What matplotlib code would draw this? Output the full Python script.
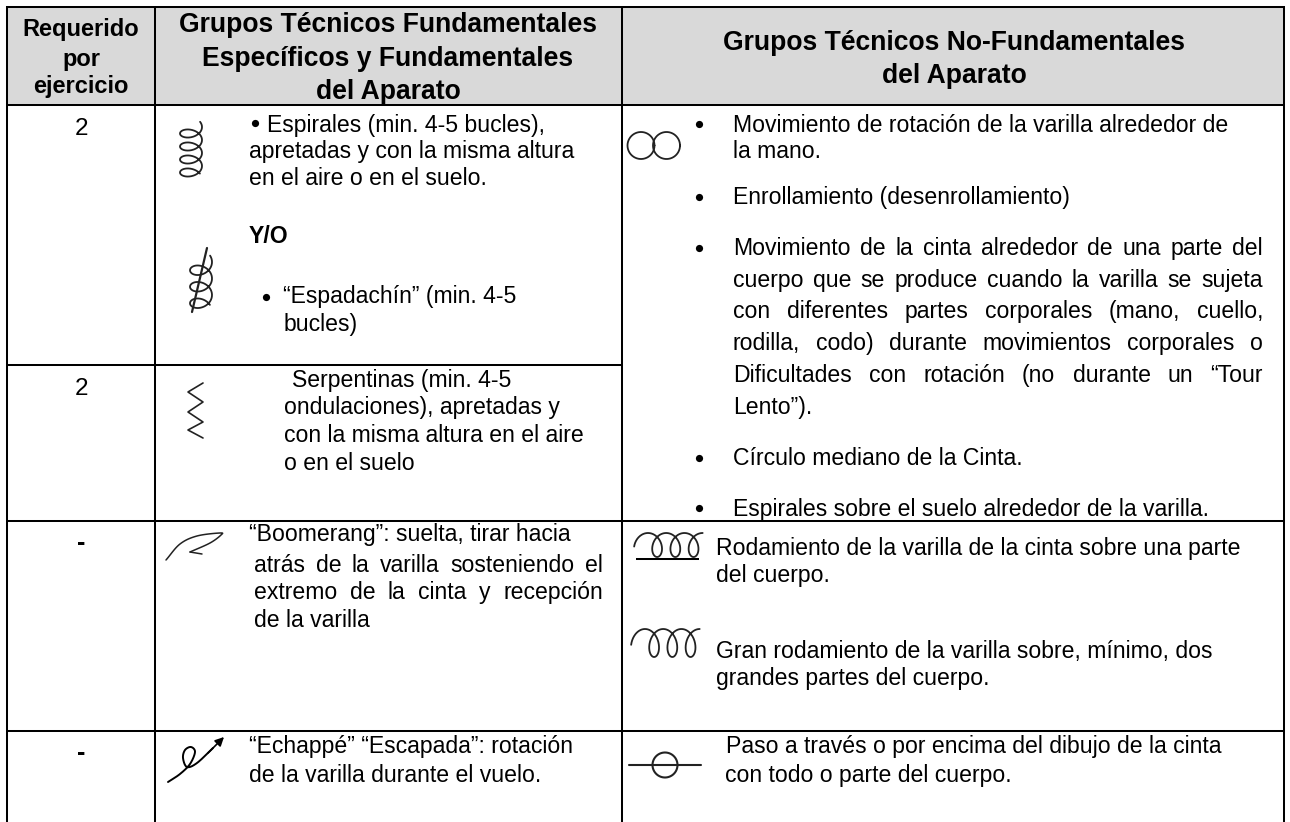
import numpy as np
import matplotlib
matplotlib.use("Agg")
import matplotlib.pyplot as plt
from matplotlib.patches import Rectangle

plt.rcParams['font.family'] = ['Liberation Sans', 'DejaVu Sans']

W, H = 1290, 822
BODY = 16.6
HEAD = 19.1

# Required counts per row
required = ["2", "2", "-", "-"]
required_y = [135, 395, 550, 760]

header_left = ["Requerido", "por", "ejercicio"]
header_mid = ["Grupos Técnicos Fundamentales", "Específicos y Fundamentales", "del Aparato"]
header_right = ["Grupos Técnicos No-Fundamentales", "del Aparato"]

# (x, baseline y, text, bold)
left_lines = [
    (267, 132, "Espirales (min. 4-5 bucles),", False),
    (249, 158, "apretadas y con la misma altura", False),
    (249, 185, "en el aire o en el suelo.", False),
    (249, 243, "Y/O", True),
    (283, 303, "“Espadachín” (min. 4-5", False),
    (284, 331, "bucles)", False),
    (292, 387, "Serpentinas (min. 4-5", False),
    (284, 414, "ondulaciones), apretadas y", False),
    (284, 442, "con la misma altura en el aire", False),
    (284, 470, "o en el suelo", False),
    (249, 541, "“Boomerang”: suelta, tirar hacia", False),
    (254, 627, "de la varilla", False),
    (249, 753, "“Echappé” “Escapada”: rotación", False),
    (249, 782, "de la varilla durante el vuelo.", False),
]

# Lines stretched to a fixed width: (left, right, baseline y, text)
justified = [
    (254, 603, 572, "atrás de la varilla sosteniendo el"),
    (254, 603, 599, "extremo de la cinta y recepción"),
    (733, 1263, 255, "Movimiento de la cinta alrededor de una parte del"),
    (733, 1263, 287, "cuerpo que se produce cuando la varilla se sujeta"),
    (733, 1263, 318, "con diferentes partes corporales (mano, cuello,"),
    (733, 1263, 350, "rodilla, codo) durante movimientos corporales o"),
    (733, 1263, 382, "Dificultades con rotación (no durante un “Tour"),
]

plain_right = [
    (733, 132, "Movimiento de rotación de la varilla alrededor de"),
    (733, 158, "la mano."),
    (733, 204, "Enrollamiento (desenrollamiento)"),
    (733, 414, "Lento”)."),
    (733, 465, "Círculo mediano de la Cinta."),
    (733, 516, "Espirales sobre el suelo alrededor de la varilla."),
    (716, 555, "Rodamiento de la varilla de la cinta sobre una parte"),
    (716, 582, "del cuerpo."),
    (716, 658, "Gran rodamiento de la varilla sobre, mínimo, dos"),
    (716, 685, "grandes partes del cuerpo."),
    (726, 753, "Paso a través o por encima del dibujo de la cinta"),
    (725, 782, "con todo o parte del cuerpo."),
]

bullets_right = [(699, 124), (699, 197), (699, 248), (699, 458), (699, 508)]
bullets_left = [(255, 123), (266, 297)]

fig = plt.figure(figsize=(W / 100, H / 100), dpi=100)
ax = fig.add_axes([0, 0, 1, 1])
ax.set_xlim(0, W)
ax.set_ylim(H, 0)
ax.axis("off")

# header band
ax.add_patch(Rectangle((7, 7), 1277, 98, fc="#d9d9d9", ec="none", zorder=0))


def hline(x0, x1, y):
    ax.plot([x0, x1], [y, y], color="black", lw=1.45, solid_capstyle="butt")


def vline(x, y0, y1):
    ax.plot([x, x], [y0, y1], color="black", lw=1.45, solid_capstyle="butt")


hline(6, 1285, 7)
hline(6, 1285, 105.5)
hline(6, 622, 365)
hline(6, 1285, 520.5)
hline(6, 1285, 731)
vline(7, 6, H)
vline(155, 6, H)
vline(622, 6, H)
vline(1284, 6, H)

# header text
for y, s in zip([36, 66, 93], header_left):
    ax.text(81, y, s, ha="center", va="baseline", fontsize=17, fontweight="bold")
for y, s in zip([32, 66, 99], header_mid):
    ax.text(388, y, s, ha="center", va="baseline", fontsize=HEAD, fontweight="bold")
for y, s in zip([50, 83], header_right):
    ax.text(954, y, s, ha="center", va="baseline", fontsize=HEAD, fontweight="bold")

for y, s in zip(required_y, required):
    if s == "-":
        ax.text(81, y, s, ha="center", va="baseline", fontsize=18, fontweight="bold")
    else:
        ax.text(81, y, s, ha="center", va="baseline", fontsize=17.5)

for x, y, s, bold in left_lines:
    ax.text(x, y, s, va="baseline", fontsize=BODY, fontweight="bold" if bold else "normal")
for x, y, s in plain_right:
    ax.text(x, y, s, va="baseline", fontsize=BODY)

renderer = fig.canvas.get_renderer()
for x0, x1, y, s in justified:
    words = s.split()
    artists = [ax.text(x0, y, w, va="baseline", fontsize=BODY) for w in words]
    widths = [a.get_window_extent(renderer).width for a in artists]
    gap = (x1 - x0 - sum(widths)) / (len(words) - 1)
    x = x0
    for a, w in zip(artists, widths):
        a.set_x(x)
        x += w + gap

for x, y in bullets_right + bullets_left:
    ax.plot(x, y, "o", color="black", ms=5.2, mew=0)


def stroke(x, y, lw=1.3, color="#222222"):
    ax.plot(x, y, color=color, lw=lw, solid_capstyle="round", solid_joinstyle="round")


def smooth(points, lw=1.3, color="#222222"):
    # Catmull-Rom through the given points
    p = np.array(points, dtype=float)
    p = np.vstack([2 * p[0] - p[1], p, 2 * p[-1] - p[-2]])
    out = []
    t = np.linspace(0, 1, 20)[:, None]
    for i in range(1, len(p) - 2):
        a, b, c, d = p[i - 1], p[i], p[i + 1], p[i + 2]
        out.append(0.5 * (2 * b + (c - a) * t + (2 * a - 5 * b + 4 * c - d) * t ** 2
                          + (3 * b - a - 3 * c + d) * t ** 3))
    c = np.vstack(out)
    stroke(c[:, 0], c[:, 1], lw=lw, color=color)


# vertical spiral sign
def spiral_v(cx, y0, pitch, turns, rx, ry):
    t = np.linspace(-0.6, turns * 2 * np.pi, 500)
    stroke(cx + rx * np.cos(t), y0 + pitch * t / (2 * np.pi) + ry * np.sin(t))


spiral_v(191, 127, 13, 3.9, 11, 7)
spiral_v(201, 262, 16.5, 2.9, 11, 8.5)
stroke([207, 192], [248, 312], lw=1.6)

# serpentine
stroke([203, 188, 203, 188, 203, 188, 203], [383, 392, 402, 412, 422, 430, 438], lw=1.2)

# boomerang
smooth([(166, 560), (180, 544), (197, 536), (220, 533), (221, 535), (210, 543), (190, 552)], lw=1.1)
stroke([190, 202], [552, 554], lw=1.1)

# echappe
smooth([(168, 782), (180, 774), (190, 764), (195, 752), (191, 747), (185, 750), (183, 758),
        (187, 767), (197, 763), (213, 748)], lw=1.4, color="black")
ax.annotate("", xy=(224, 737), xytext=(208, 753),
            arrowprops=dict(arrowstyle="-|>", color="black", lw=1.2, mutation_scale=13, shrinkA=0, shrinkB=0))

# double ring
th = np.linspace(0, 2 * np.pi, 200)
stroke(641 + 13.5 * np.cos(th), 145.5 + 13.5 * np.sin(th))
stroke(666.5 + 13.5 * np.cos(th), 145.5 + 13.5 * np.sin(th))


# rolling loops
def rolling(xs, ybase, amp):
    t = np.linspace(-1.7, 6 * np.pi, 500)
    stroke(xs + 2.9 * t + 9 * np.sin(t), ybase - amp * np.cos(t))


rolling(648, 545, 12)
hline(636, 699, 559)
rolling(645, 643, 14)

# pass through
stroke([629, 701], [765, 765], lw=1.5)
stroke(665 + 12.5 * np.cos(th), 765 + 12.5 * np.sin(th), lw=1.5)

fig.savefig("out.png", dpi=100)
